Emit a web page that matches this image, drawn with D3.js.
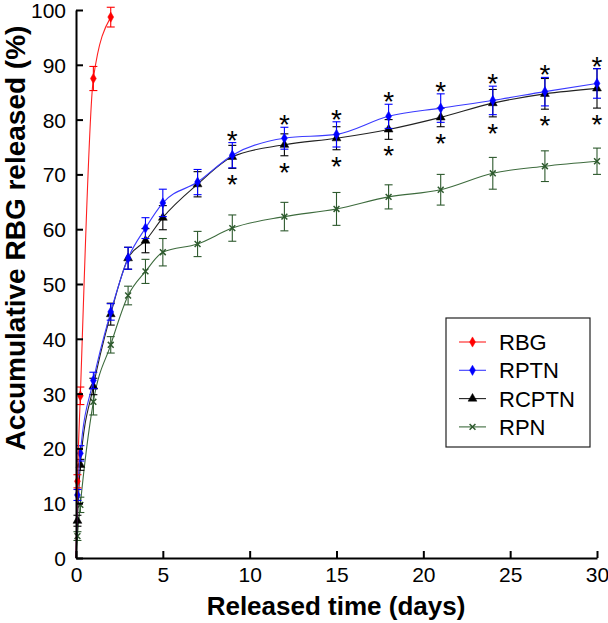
<!DOCTYPE html>
<html><head><meta charset="utf-8">
<script src="https://cdn.jsdelivr.net/npm/d3@7"></script>
<style>body{margin:0;background:#fff;} svg{display:block;font-family:"Liberation Sans",Arial,sans-serif;}</style>
</head><body>
<svg id="c" width="608" height="623"></svg>
<script>
// ---- data ----
const daysRBG = [0, 0.083, 0.25, 1, 2];
const valRBG  = [0, 14, 29.6, 87.5, 98.7];
const errRBG  = [0, 1.2, 1.6, 2.2, 1.8];

const days = [0, 0.083, 0.25, 1, 2, 3, 4, 5, 7, 9, 12, 15, 18, 21, 24, 27, 30];
const valRPTN  = [0, 11.5, 19.1, 32.4, 44.9, 54.7, 60.2, 64.8, 68.6, 73.5, 76.6, 77.3, 80.6, 82.1, 83.5, 85.1, 86.6];
const errRPTN  = [0, 1.0, 1.4, 1.5, 1.5, 2.0, 1.9, 2.5, 2.3, 2.3, 2.0, 2.3, 2.2, 2.6, 2.6, 2.6, 2.7];
const valRCPTN = [0, 6.8, 17.0, 31.3, 44.5, 54.7, 57.9, 62.1, 68.2, 73.2, 75.4, 76.6, 78.2, 80.4, 83.0, 84.7, 85.7];
const errRCPTN = [0, 1.0, 1.0, 1.5, 2.0, 2.0, 2.2, 2.2, 2.3, 2.1, 2.0, 2.1, 1.8, 1.7, 2.5, 2.8, 3.6];
const valRPN   = [0, 4.0, 9.7, 28.5, 38.9, 47.9, 52.3, 55.8, 57.3, 60.2, 62.3, 63.7, 65.9, 67.2, 70.2, 71.5, 72.4];
const errRPN   = [0, 0.8, 1.4, 2.4, 1.5, 1.7, 2.2, 2.5, 2.3, 2.4, 2.6, 3.0, 2.2, 2.8, 2.9, 2.8, 2.4];

const starDays = [9, 12, 15, 18, 21, 24, 27, 30];
const xTicks = [0, 5, 10, 15, 20, 25, 30];
const yTicks = [0, 10, 20, 30, 40, 50, 60, 70, 80, 90, 100];
const seriesNames = ["RBG", "RPTN", "RCPTN", "RPN"];
const seriesColors = ["#ff0000", "#0000ff", "#000000", "#2e5a2e"];
const lineColors = ["#ff2020", "#3a3aff", "#222222", "#3d6b3d"];

// ---- layout ----
const svg = d3.select("#c");
const L = 76, R = 597, T = 10, B = 558;
const x = d3.scaleLinear().domain([0, 30]).range([L, R]);
const y = d3.scaleLinear().domain([0, 100]).range([B, T]);

function mk(xs, vs, es){ return xs.map((d,i)=>({d, v: vs[i], e: es[i]})); }
const series = [
  mk(daysRBG, valRBG, errRBG),
  mk(days, valRPTN, errRPTN),
  mk(days, valRCPTN, errRCPTN),
  mk(days, valRPN, errRPN)
];

const line = d3.line().x(p=>x(p.d)).y(p=>y(p.v)).curve(d3.curveMonotoneX);

function markerPath(si){
  if (si<=1) return d3.symbol(d3.symbolDiamond, 30)();
  if (si===2) return d3.symbol(d3.symbolTriangle, 34)();
  return d3.symbol(d3.symbolTimes, 24)();
}
function drawMarkers(g, pts, si){
  const col = seriesColors[si];
  g.selectAll("path.m").data(pts).join("path").attr("class","m")
    .attr("transform", p=>`translate(${x(p.d)},${y(p.v)})`)
    .attr("d", markerPath(si))
    .attr("fill", col).attr("stroke", col).attr("stroke-width", si===3?1.5:0.5);
}

// draw order: RPN, RCPTN, RPTN, RBG
[3,2,1,0].forEach(si=>{
  const g = svg.append("g");
  const col = seriesColors[si];
  g.append("path").attr("d", line(series[si])).attr("fill","none")
    .attr("stroke", lineColors[si]).attr("stroke-width", 1.1);
  const pts = series[si].filter(p=>p.d>0);
  const eb = g.selectAll("g.eb").data(pts.filter(p=>p.e>0)).join("g").attr("stroke", col).attr("stroke-width",1.1);
  eb.append("line").attr("x1",p=>x(p.d)).attr("x2",p=>x(p.d)).attr("y1",p=>y(p.v+p.e)).attr("y2",p=>y(p.v-p.e));
  eb.append("line").attr("x1",p=>x(p.d)-4).attr("x2",p=>x(p.d)+4).attr("y1",p=>y(p.v+p.e)).attr("y2",p=>y(p.v+p.e));
  eb.append("line").attr("x1",p=>x(p.d)-4).attr("x2",p=>x(p.d)+4).attr("y1",p=>y(p.v-p.e)).attr("y2",p=>y(p.v-p.e));
  drawMarkers(g, pts, si);
});

// asterisks
const sg = svg.append("g").attr("font-size", 28).attr("text-anchor","middle").attr("fill","#000");
starDays.forEach(d=>{
  const i = days.indexOf(d);
  const top = Math.max(valRPTN[i]+errRPTN[i], valRCPTN[i]+errRCPTN[i]);
  const bot = Math.min(valRPTN[i]-errRPTN[i], valRCPTN[i]-errRCPTN[i]);
  sg.append("text").attr("x", x(d)).attr("y", y(top) - 9 + 16).text("*");
  sg.append("text").attr("x", x(d)).attr("y", y(bot) + 10 + 16).text("*");
});

// axes
const ax = svg.append("g").attr("transform", `translate(0,${B})`)
  .call(d3.axisBottom(x).tickValues(xTicks).tickSizeInner(-7).tickSizeOuter(0).tickPadding(9));
const ay = svg.append("g").attr("transform", `translate(${L},0)`)
  .call(d3.axisLeft(y).tickValues(yTicks).tickSizeInner(-7).tickSizeOuter(0).tickPadding(10));
[ax, ay].forEach(a=>{
  a.select(".domain").attr("stroke","#000").attr("stroke-width",2);
  a.selectAll(".tick line").attr("stroke","#000").attr("stroke-width",2);
  a.selectAll(".tick text").attr("font-size",21).attr("fill","#000").attr("font-family","Liberation Sans, Arial, sans-serif");
});
ay.selectAll(".tick text").attr("dy", "0.36em");

svg.append("text").attr("x", 336).attr("y", 615).attr("text-anchor","middle")
  .attr("font-weight","bold").attr("font-size",26).text("Released time (days)");
svg.append("text").attr("transform", `translate(25,238) rotate(-90)`).attr("text-anchor","middle")
  .attr("font-weight","bold").attr("font-size",28).text("Accumulative RBG released (%)");

// legend
const lg = svg.append("g");
lg.append("rect").attr("x",446).attr("y",318).attr("width",144).attr("height",129)
  .attr("fill","#fff").attr("stroke","#222").attr("stroke-width",1.2);
seriesNames.forEach((n,i)=>{
  const yy = 342 + i*28.3;
  lg.append("line").attr("x1",459).attr("x2",486).attr("y1",yy).attr("y2",yy).attr("stroke",lineColors[i]).attr("stroke-width",1.1);
  lg.append("path").attr("transform",`translate(472.5,${yy})`).attr("d",markerPath(i))
    .attr("fill",seriesColors[i]).attr("stroke",seriesColors[i]).attr("stroke-width", i===3?1.5:0.5);
  lg.append("text").attr("x",499).attr("y",yy+8).attr("font-size",22).attr("fill","#000").text(n);
});
</script>
</body></html>
